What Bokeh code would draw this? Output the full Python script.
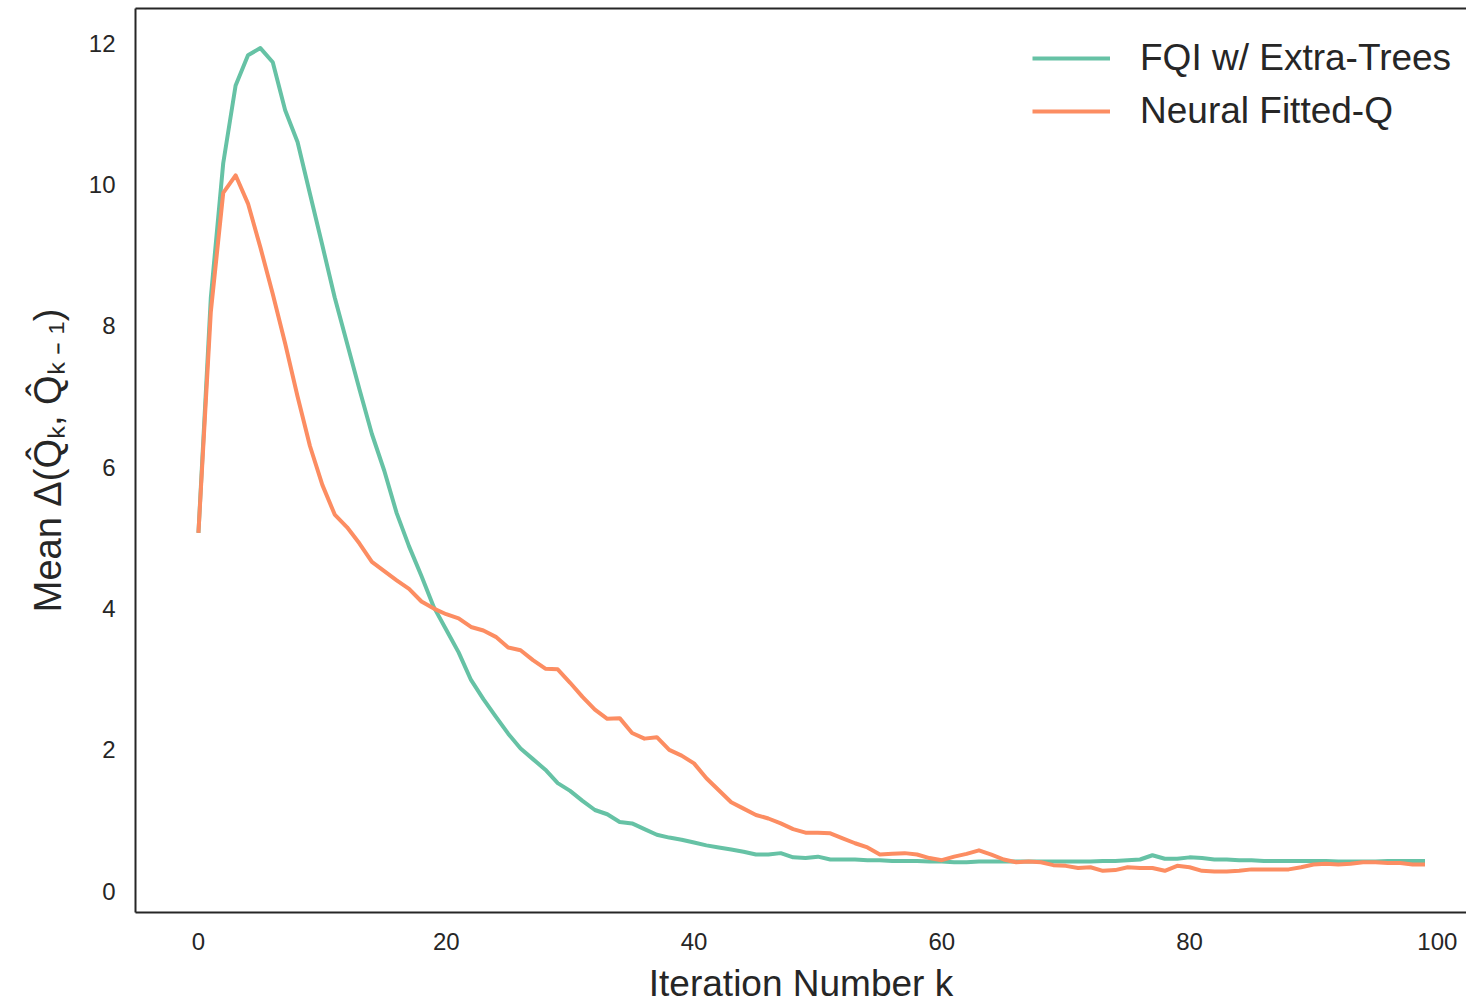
from bokeh.plotting import figure
from bokeh.models import Range1d, FixedTicker, LinearAxis, Legend, LegendItem
from bokeh.embed import file_html
from bokeh.resources import INLINE

iterations = list(range(100))

fqi_extra_trees = [
    5.07, 8.40, 10.30, 11.40, 11.83, 11.93, 11.73, 11.05, 10.60, 9.87,
    9.14, 8.40, 7.75, 7.10, 6.47, 5.95, 5.35, 4.88, 4.46, 4.02,
    3.70, 3.38, 2.99, 2.72, 2.47, 2.23, 2.02, 1.87, 1.72, 1.53,
    1.42, 1.28, 1.15, 1.09, 0.98, 0.96, 0.88, 0.80, 0.76, 0.73,
    0.69, 0.65, 0.62, 0.59, 0.56, 0.52, 0.52, 0.54, 0.48, 0.47,
    0.49, 0.45, 0.45, 0.45, 0.44, 0.44, 0.43, 0.43, 0.43, 0.42,
    0.42, 0.41, 0.41, 0.42, 0.42, 0.42, 0.42, 0.42, 0.42, 0.42,
    0.42, 0.42, 0.42, 0.43, 0.43, 0.44, 0.45, 0.51, 0.46, 0.46,
    0.48, 0.47, 0.45, 0.45, 0.44, 0.44, 0.43, 0.43, 0.43, 0.43,
    0.43, 0.43, 0.42, 0.42, 0.42, 0.42, 0.43, 0.43, 0.43, 0.43,
]

neural_fitted_q = [
    5.07, 8.20, 9.88, 10.13, 9.73, 9.11, 8.45, 7.75, 7.00, 6.30,
    5.75, 5.33, 5.15, 4.92, 4.66, 4.53, 4.40, 4.28, 4.10, 4.00,
    3.92, 3.86, 3.74, 3.69, 3.60, 3.45, 3.41, 3.27, 3.15, 3.14,
    2.95, 2.75, 2.57, 2.44, 2.45, 2.24, 2.16, 2.18, 2.00, 1.92,
    1.81, 1.60, 1.43, 1.26, 1.17, 1.08, 1.03, 0.96, 0.88, 0.83,
    0.83, 0.82, 0.75, 0.68, 0.62, 0.52, 0.53, 0.54, 0.52, 0.47,
    0.44, 0.49, 0.53, 0.58, 0.52, 0.45, 0.41, 0.42, 0.41, 0.37,
    0.36, 0.33, 0.34, 0.29, 0.30, 0.34, 0.33, 0.33, 0.29, 0.36,
    0.34, 0.29, 0.28, 0.28, 0.29, 0.31, 0.31, 0.31, 0.31, 0.34,
    0.38, 0.39, 0.38, 0.39, 0.41, 0.41, 0.40, 0.40, 0.38, 0.38,
]

series_labels = ["FQI w/ Extra-Trees", "Neural Fitted-Q"]
x_ticks = [0, 20, 40, 60, 80, 100]
y_ticks = [0, 2, 4, 6, 8, 10, 12]
x_label = "Iteration Number k"
y_label = "Mean \u0394(Q\u0302\u2096, Q\u0302\u2096\u2009\u208b\u2009\u2081)"

GREEN = "#66c2a5"
ORANGE = "#fc8d62"
DARK = "#262626"
FONT = "Liberation Sans"

p = figure(
    frame_width=1331, frame_height=904,
    output_backend="svg", toolbar_location=None,
    x_range=Range1d(-5.08, 102.35), y_range=Range1d(-0.30, 12.49),
    min_border_left=135, min_border_right=0, min_border_top=8, min_border_bottom=0,
    background_fill_color="white", border_fill_color="white",
)
p.outline_line_color = None
p.grid.visible = False

for ax in (p.xaxis[0], p.yaxis[0]):
    ax.axis_line_color = DARK
    ax.axis_line_width = 2
    ax.major_tick_out = 0
    ax.major_tick_in = 0
    ax.minor_tick_out = 0
    ax.minor_tick_in = 0
    ax.major_label_text_font = FONT
    ax.major_label_text_font_size = "24px"
    ax.major_label_text_color = DARK
    ax.axis_label_text_font = FONT
    ax.axis_label_text_font_style = "normal"
    ax.axis_label_text_color = DARK

p.xaxis[0].axis_label_text_font_size = "37px"
p.yaxis[0].axis_label_text_font_size = "38px"
p.xaxis[0].ticker = FixedTicker(ticks=x_ticks)
p.yaxis[0].ticker = FixedTicker(ticks=y_ticks)
p.xaxis[0].major_label_standoff = 20
p.yaxis[0].major_label_standoff = 20
p.xaxis[0].axis_label = x_label
p.yaxis[0].axis_label = y_label
p.xaxis[0].axis_label_standoff = 10
p.yaxis[0].axis_label_standoff = 17

top_axis = LinearAxis(ticker=FixedTicker(ticks=[]), major_label_text_font_size="0px",
                      major_tick_out=0, minor_tick_out=0, axis_line_color=DARK,
                      axis_line_width=2)
p.add_layout(top_axis, "above")

r1 = p.line(iterations, fqi_extra_trees, line_color=GREEN, line_width=4, line_join="round")
r2 = p.line(iterations, neural_fitted_q, line_color=ORANGE, line_width=4, line_join="round")

legend = Legend(
    items=[LegendItem(label=series_labels[0], renderers=[r1]),
           LegendItem(label=series_labels[1], renderers=[r2])],
    location=(897, 780), border_line_color=None, background_fill_alpha=0,
    label_text_font=FONT, label_text_font_size="37px", label_text_color=DARK,
    glyph_width=78, glyph_height=42, label_height=42, spacing=11,
    label_standoff=30, padding=0, margin=0,
)
p.add_layout(legend)

open("out.html", "w").write(file_html(p, INLINE))
